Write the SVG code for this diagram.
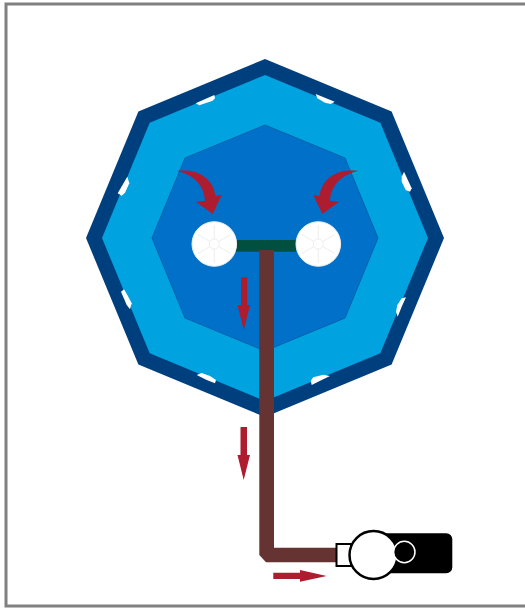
<svg xmlns="http://www.w3.org/2000/svg" width="525" height="608" viewBox="0 0 525 608">
<style>
.notch{fill:#fff}
.arrow{fill:#ae1c2f}
.spoke{stroke:#eaeaea;stroke-width:.8;fill:none}
.pipe{fill:#663333}
</style>
<defs>
<g id="wheel">
<circle r="22.3" fill="#fff" stroke="#efefef" stroke-width="1"/>
<circle r="5" class="spoke"/>
<path class="spoke" d="M0,-5V-19M0,5V19M4.3,-2.5L16.5,-9.5M-4.3,-2.5L-16.5,-9.5M4.3,2.5L16.5,9.5M-4.3,2.5L-16.5,9.5"/>
</g>
<path id="curve" class="arrow" d="M176.7,171C195,168.5 212.5,176 215.5,196L221.7,195L212.7,214L196,201.7L205,200.7C204,186 195,175 176.7,171Z"/>
</defs>
<rect id="frame" x="6" y="4" width="530" height="602" fill="#fff" stroke="#808080" stroke-width="3"/>
<g id="tank">
<polygon fill="#003f7d" points="265,59 391.6,111.4 444,238 391.6,364.6 265,417 138.4,364.6 86,238 138.4,111.4"/>
<polygon fill="#00a3e0" points="265,75 380.3,122.7 428,238 380.3,353.3 265,401 149.7,353.3 102,238 149.7,122.7"/>
<polygon fill="#0070c8" stroke="#0063ad" stroke-width="1" points="265,125 345,158 378,238 345,318 265,351 185,318 152,238 185,158"/>
</g>
<g id="slots">
<polygon class="notch" points="195.7,103.3 199.3,105.3 212.7,100.7 215,98.3 214.3,95"/>
<polygon class="notch" points="117.7,193.3 121.7,195.7 125,192.7 129.3,183.3 127.3,176.7"/>
<polygon class="notch" points="315.7,94 317.3,98.3 325,102.7 330.7,104 334.7,101.7"/>
<polygon class="notch" points="401.7,176.7 404,171.7 411.7,188.3 410,191.7 405.7,190 401.7,181.7"/>
<polygon class="notch" points="121,291.7 124,289.3 128.3,296.7 131.7,303.3 130,309.3 126.7,305"/>
<polygon class="notch" points="196.7,375 201.7,373 210,376 216,380 215,383.3 206.7,380"/>
<polygon class="notch" points="310.7,380.7 313.3,377.3 323.3,374.7 330,376 321.7,380 311.7,385"/>
<polygon class="notch" points="396,311.7 397.3,305 401.7,298.3 406,297.3 401.7,306.7 397.7,316.7"/>
</g>
<g id="connectors">
<rect x="236" y="240" width="60" height="11.7" fill="#004f3f"/>
<path class="pipe" d="M259.3,250H274V547.7H337V562.3H266L259.3,555Z"/>
</g>
<g id="wheel-left"><use href="#wheel" x="214.3" y="244"/></g>
<g id="wheel-right"><use href="#wheel" x="318.3" y="244"/></g>
<g id="pump">
<path d="M385,533.3H446.3a6,6 0 0 1 6,6V567.3a6,6 0 0 1-6,6H385Z" fill="#000"/>
<rect x="336.5" y="544" width="14.5" height="22" fill="#fff" stroke="#000" stroke-width="2"/>
<circle cx="373.5" cy="555" r="24" fill="#fff" stroke="#000" stroke-width="2.5"/>
<circle cx="404.3" cy="552" r="10.7" fill="#000" stroke="#fff" stroke-width="1.5"/>
</g>
<g id="flow-arrows">
<use href="#curve"/>
<use href="#curve" transform="matrix(-1 0 0 1 535 0)"/>
<polygon class="arrow" points="241,277.3 247.3,277.3 247.3,305 250,305 243.8,330 237.5,305 241,305"/>
<polygon class="arrow" points="240.5,427 247,427 247,455 250,455 243.7,480 237.5,455 240.5,455"/>
<polygon class="arrow" points="273.3,572.7 300,572.7 300,570 326.7,576 300,581.7 300,579 273.3,579"/>
</g>
</svg>
